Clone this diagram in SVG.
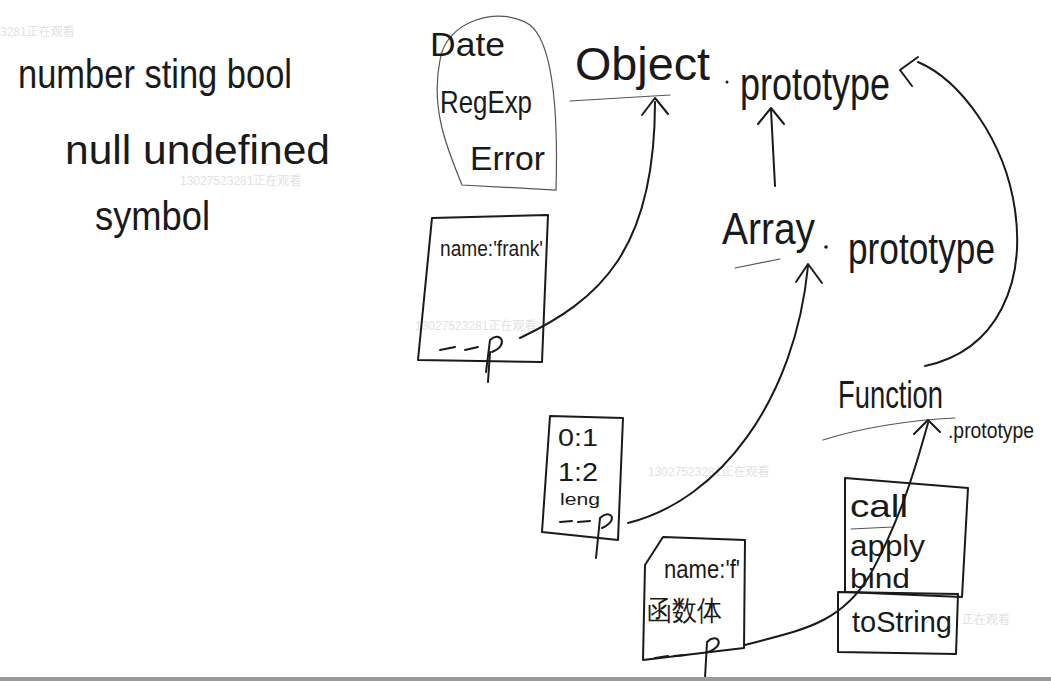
<svg xmlns="http://www.w3.org/2000/svg" width="1051" height="681" viewBox="0 0 1051 681">
<style>
.t{font-family:"Liberation Sans","DejaVu Sans",sans-serif;fill:#1a1a1a}
.s{fill:none;stroke:#1a1a1a;stroke-width:2;stroke-linecap:round;stroke-linejoin:round}
.thin{fill:none;stroke:#555;stroke-width:1.2;stroke-linecap:round}
.wm{font-family:"Liberation Sans","Noto Sans CJK SC",sans-serif;font-size:12px;fill:#e2e2e2}
</style>
<rect width="1051" height="681" fill="#ffffff"/>
<g id="watermarks">
<text class="wm" x="0" y="36">3281正在观看</text>
<text class="wm" x="180" y="185">13027523281正在观看</text>
<text class="wm" x="415" y="330">13027523281正在观看</text>
<text class="wm" x="648" y="476">13027523281正在观看</text>
<text class="wm" x="962" y="624">正在观看</text>
</g>
<g id="primitives">
<text class="t" x="18" y="88" font-size="40" textLength="274" lengthAdjust="spacingAndGlyphs">number sting bool</text>
<text class="t" x="65" y="164" font-size="40" textLength="265" lengthAdjust="spacingAndGlyphs">null  undefined</text>
<text class="t" x="95" y="230" font-size="40" textLength="115" lengthAdjust="spacingAndGlyphs">symbol</text>
</g>
<g id="builtins">
<path class="thin" d="M462 185 C448 150 430 110 440 60 C446 20 500 5 530 25 C555 45 558 120 556 190 Z"/>
<text class="t" x="430" y="56" font-size="34" textLength="75" lengthAdjust="spacingAndGlyphs">Date</text>
<text class="t" x="440" y="113" font-size="32" textLength="92" lengthAdjust="spacingAndGlyphs">RegExp</text>
<text class="t" x="470" y="170" font-size="34" textLength="75" lengthAdjust="spacingAndGlyphs">Error</text>
</g>
<g id="object-prototype">
<text class="t" x="575" y="80" font-size="46" textLength="135" lengthAdjust="spacingAndGlyphs">Object</text>
<circle cx="727" cy="82" r="1.5" fill="#1a1a1a"/>
<text class="t" x="740" y="100" font-size="46" textLength="150" lengthAdjust="spacingAndGlyphs">prototype</text>
<path class="thin" d="M570 101 L670 95"/>
</g>
<g id="obj-frank">
<path class="s" d="M432 218 L548 215 L542 362 L418 360 Z"/>
<text class="t" x="440" y="256" font-size="22" textLength="103" lengthAdjust="spacingAndGlyphs">name:'frank'</text>
<path class="s" d="M440 350 L455 347 M465 350 L478 347 M486 372 L490 340 C500 330 510 345 492 352"/>
<path class="s" d="M490 352 L488 382"/>
</g>
<g id="array-prototype">
<text class="t" x="722" y="244" font-size="44" textLength="93" lengthAdjust="spacingAndGlyphs">Array</text>
<circle cx="826" cy="247" r="1.8" fill="#1a1a1a"/>
<text class="t" x="848" y="264" font-size="44" textLength="147" lengthAdjust="spacingAndGlyphs">prototype</text>
<path class="thin" d="M735 268 L780 259"/>
</g>
<g id="obj-array">
<path class="s" d="M550 416 L623 418 L618 540 L542 532 Z"/>
<text class="t" x="558" y="446" font-size="24" textLength="40" lengthAdjust="spacingAndGlyphs">0:1</text>
<text class="t" x="558" y="481" font-size="26" textLength="40" lengthAdjust="spacingAndGlyphs">1:2</text>
<text class="t" x="560" y="505" font-size="16" textLength="40" lengthAdjust="spacingAndGlyphs">leng</text>
<path class="s" d="M560 522 L572 521 M578 522 L590 521 M596 558 L600 518 C610 508 620 520 602 528"/>
</g>
<g id="function-prototype">
<text class="t" x="838" y="408" font-size="38" textLength="105" lengthAdjust="spacingAndGlyphs">Function</text>
<text class="t" x="948" y="438" font-size="22" textLength="86" lengthAdjust="spacingAndGlyphs">.prototype</text>
<path class="thin" d="M823 440 C860 428 910 420 955 418"/>
</g>
<g id="function-methods">
<path class="s" d="M845 478 L968 488 L962 597 L845 592 Z"/>
<text class="t" x="850" y="517" font-size="32" textLength="58" lengthAdjust="spacingAndGlyphs">call</text>
<path class="thin" d="M851 529 L893 527"/>
<text class="t" x="850" y="556" font-size="30" textLength="75" lengthAdjust="spacingAndGlyphs">apply</text>
<text class="t" x="850" y="588" font-size="28" textLength="60" lengthAdjust="spacingAndGlyphs">bind</text>
<path class="s" d="M838 592 L958 594 L956 654 L838 652 Z"/>
<text class="t" x="852" y="632" font-size="30" textLength="100" lengthAdjust="spacingAndGlyphs">toString</text>
</g>
<g id="obj-function">
<path class="s" d="M663 537 L745 540 L744 648 L643 660 L645 565 Z"/>
<text class="t" x="664" y="578" font-size="26" textLength="76" lengthAdjust="spacingAndGlyphs">name:'f'</text>
<text class="t" x="647" y="620" font-size="28" textLength="75" lengthAdjust="spacingAndGlyphs" font-family="'Noto Sans CJK SC',sans-serif">函数体</text>
<path class="s" d="M655 658 L668 656 M674 656 L686 655 M705 678 L707 642 C717 632 727 645 708 652"/>
</g>
<g id="connectors">
<path class="s" d="M520 338 C600 300 655 250 655 102"/>
<path class="s" d="M642 115 L655 98 L668 114"/>
<path class="s" d="M775 186 L771 110"/>
<path class="s" d="M758 124 L771 108 L784 124"/>
<path class="s" d="M628 523 C720 500 795 400 808 266"/>
<path class="s" d="M796 282 L808 264 L822 283"/>
<path class="s" d="M745 645 C800 630 840 625 870 575 C900 520 915 470 928 423"/>
<path class="s" d="M914 434 L928 420 L940 432"/>
<path class="s" d="M925 366 C1000 350 1025 280 1015 210 C1005 140 960 80 918 62"/>
<path class="s" d="M918 57 L900 70 L912 86"/>
</g>
<rect x="0" y="677" width="1051" height="4" fill="#9a9a9a"/>
</svg>
